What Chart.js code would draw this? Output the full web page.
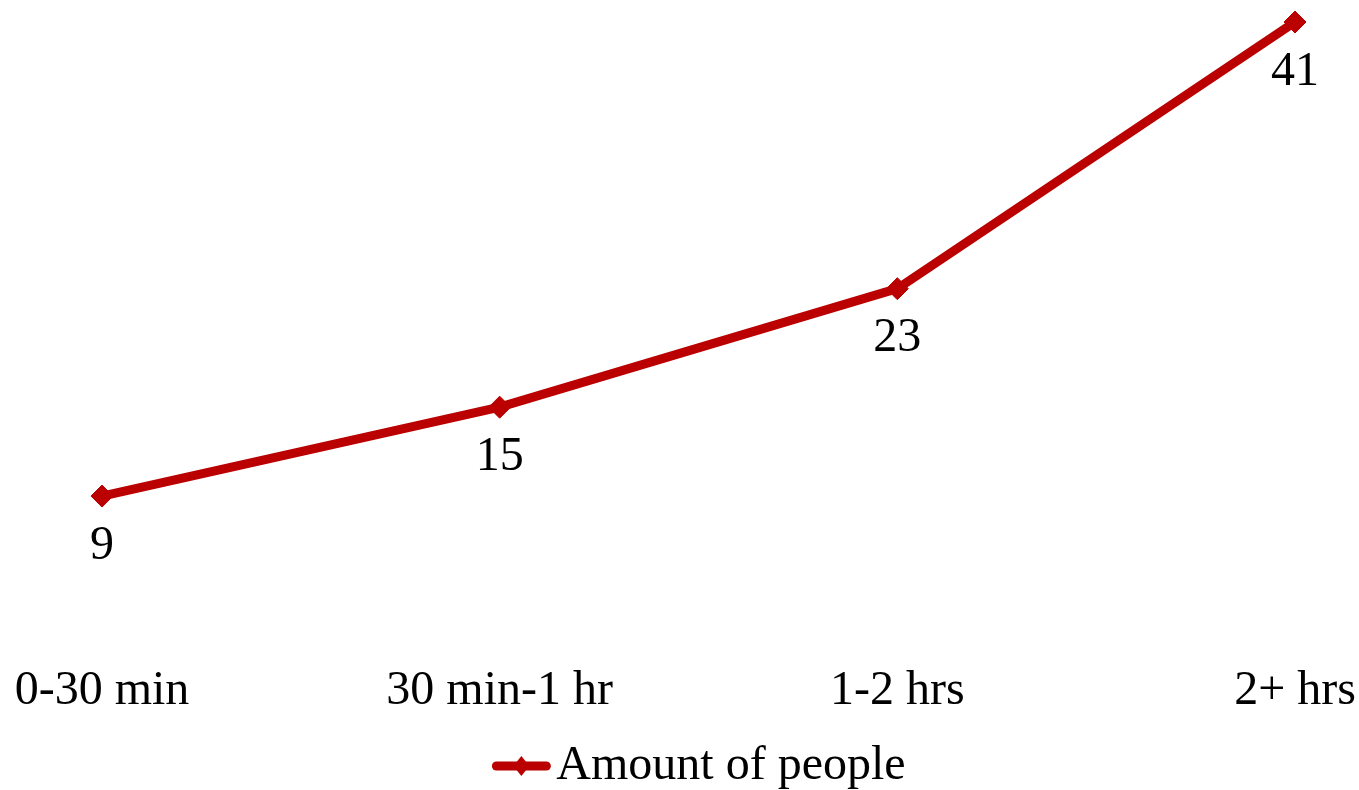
<!DOCTYPE html>
<html>
<head>
<meta charset="utf-8">
<script src="https://cdn.jsdelivr.net/npm/chart.js@4"></script>
<style>
  html, body { margin: 0; padding: 0; background: #ffffff; }
  #wrap { width: 1359px; height: 790px; position: relative; }
</style>
</head>
<body>
<div id="wrap"><canvas id="c"></canvas></div>
<script>
const categories = ["0-30 min", "30 min-1 hr", "1-2 hrs", "2+ hrs"];
const seriesName = "Amount of people";
const amountOfPeople = [9, 15, 23, 41];

const RED = "#BA0000";
const FONT = "'Liberation Serif', 'Times New Roman', serif";
const FSIZE = 48;

const dataLabels = {
  id: 'dataLabels',
  afterDatasetsDraw(chart) {
    const ctx = chart.ctx;
    const meta = chart.getDatasetMeta(0);
    ctx.save();
    ctx.font = FSIZE + "px " + FONT;
    ctx.fillStyle = "#000000";
    ctx.textAlign = "center";
    ctx.textBaseline = "middle";
    meta.data.forEach((pt, i) => {
      ctx.fillText(String(chart.data.datasets[0].data[i]), pt.x, pt.y + 50);
    });
    ctx.restore();
  }
};

const bottomLegend = {
  id: 'bottomLegend',
  afterDraw(chart) {
    const ctx = chart.ctx;
    const ca = chart.chartArea;
    const label = chart.data.datasets[0].label;
    ctx.save();
    ctx.font = FSIZE + "px " + FONT;
    const tw = ctx.measureText(label).width;
    const lineW = 60, gap = 5;
    const total = lineW + gap + tw;
    const x0 = (ca.left + ca.right) / 2 - total / 2;
    const y = 766;
    ctx.strokeStyle = RED;
    ctx.lineWidth = 9;
    ctx.lineCap = "round";
    ctx.beginPath();
    ctx.moveTo(x0 + 5, y);
    ctx.lineTo(x0 + lineW - 5, y);
    ctx.stroke();
    const cx = x0 + lineW / 2, r = 10;
    ctx.fillStyle = RED;
    ctx.beginPath();
    ctx.moveTo(cx - r * 0.8, y);
    ctx.lineTo(cx, y - r);
    ctx.lineTo(cx + r * 0.8, y);
    ctx.lineTo(cx, y + r);
    ctx.closePath();
    ctx.fill();
    ctx.fillStyle = "#000000";
    ctx.textAlign = "left";
    ctx.textBaseline = "middle";
    ctx.fillText(label, x0 + lineW + gap, y);
    ctx.restore();
  }
};

new Chart(document.getElementById('c'), {
  type: 'line',
  data: {
    labels: categories,
    datasets: [{
      label: seriesName,
      data: amountOfPeople,
      borderColor: RED,
      backgroundColor: RED,
      borderWidth: 9,
      pointStyle: 'rectRot',
      pointRadius: 11,
      pointBorderWidth: 1,
      pointBackgroundColor: RED,
      pointBorderColor: RED,
      tension: 0,
      fill: false,
      clip: false
    }]
  },
  options: {
    responsive: true,
    maintainAspectRatio: false,
    devicePixelRatio: 1,
    animation: false,
    layout: { padding: { left: 102, right: 64, top: 22, bottom: 70 } },
    plugins: {
      legend: { display: false },
      tooltip: { enabled: false }
    },
    scales: {
      x: {
        offset: false,
        grid: { display: true, drawOnChartArea: false, drawTicks: true, tickLength: 33, color: 'rgba(0,0,0,0)' },
        border: { display: false },
        ticks: {
          color: "#000000",
          font: { family: FONT, size: FSIZE },
          padding: 0,
          maxRotation: 0,
          autoSkip: false
        }
      },
      y: {
        display: false,
        min: 0,
        max: 41
      }
    }
  },
  plugins: [dataLabels, bottomLegend]
});
</script>
</body>
</html>
